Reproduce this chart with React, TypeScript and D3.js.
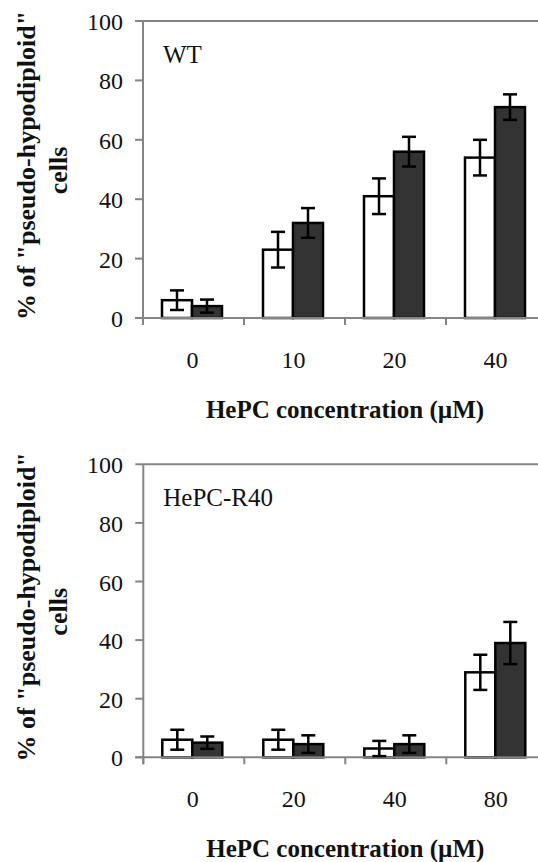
import { useEffect, useRef } from 'react';
import * as d3 from 'd3';

// Panel A: wild type
const WT_CONC = ["0", "10", "20", "40"];
const WT_OPEN = [6, 23, 41, 54];
const WT_OPEN_ERR = [3.3, 6, 6, 6];
const WT_FILLED = [4, 32, 56, 71];
const WT_FILLED_ERR = [2.2, 5, 5, 4.3];

// Panel B: HePC-R40 resistant line
const R40_CONC = ["0", "20", "40", "80"];
const R40_OPEN = [6, 6, 3, 29];
const R40_OPEN_ERR = [3.4, 3.4, 2.6, 6];
const R40_FILLED = [5, 4.5, 4.5, 39];
const R40_FILLED_ERR = [2.1, 3, 3, 7.2];

const Y_TICKS = [0, 20, 40, 60, 80, 100];

const AXIS_GRAY = "#858585";
const BAR_DARK = "#333333";
const FONT = "'Liberation Serif', 'Times New Roman', serif";

const W = 538;
const H = 862;

function drawPanel(svg: any, opts: any) {
  const { top, bottom, left, label, conc, open, openErr, filled, filledErr } = opts;
  const bandW = 101;

  const x = d3.scaleBand()
    .domain(conc)
    .range([left, left + bandW * conc.length])
    .paddingInner(0)
    .paddingOuter(0);

  const y = d3.scaleLinear().domain([0, 100]).range([bottom, top]);

  const g = svg.append("g");

  // frame: top border + left axis + baseline
  g.append("line")
    .attr("x1", left).attr("x2", W)
    .attr("y1", y(100)).attr("y2", y(100))
    .attr("stroke", AXIS_GRAY).attr("stroke-width", 2);
  g.append("line")
    .attr("x1", left).attr("x2", left)
    .attr("y1", y(100)).attr("y2", y(0) + 7)
    .attr("stroke", AXIS_GRAY).attr("stroke-width", 2);

  // y ticks + labels
  Y_TICKS.forEach((t) => {
    g.append("line")
      .attr("x1", left - 8).attr("x2", left)
      .attr("y1", y(t)).attr("y2", y(t))
      .attr("stroke", AXIS_GRAY).attr("stroke-width", 2);
    g.append("text")
      .attr("x", 123)
      .attr("y", y(t) + 9)
      .attr("text-anchor", "end")
      .attr("font-family", FONT)
      .attr("font-size", 24)
      .attr("fill", "#111")
      .text(t);
  });

  // x ticks at band edges
  conc.forEach((c: string) => {
    g.append("line")
      .attr("x1", x(c)).attr("x2", x(c))
      .attr("y1", y(0)).attr("y2", y(0) + 7)
      .attr("stroke", AXIS_GRAY).attr("stroke-width", 2);
    g.append("text")
      .attr("x", (x(c) as number) + x.bandwidth() / 2 - 1)
      .attr("y", y(0) + 50)
      .attr("text-anchor", "middle")
      .attr("font-family", FONT)
      .attr("font-size", 24)
      .attr("fill", "#111")
      .text(c);
  });

  // bars
  const barW = 30;
  const series = [
    { vals: open, errs: openErr, fill: "#ffffff", off: -barW },
    { vals: filled, errs: filledErr, fill: BAR_DARK, off: 0 },
  ];

  series.forEach((s) => {
    conc.forEach((c: string, i: number) => {
      const cx = (x(c) as number) + x.bandwidth() / 2 - 1.5;
      g.append("rect")
        .attr("x", cx + s.off)
        .attr("y", y(s.vals[i]))
        .attr("width", barW)
        .attr("height", y(0) - y(s.vals[i]))
        .attr("fill", s.fill)
        .attr("stroke", "#000")
        .attr("stroke-width", 2.5);
    });
  });

  // baseline over bar bottoms
  g.append("line")
    .attr("x1", left - 8).attr("x2", W)
    .attr("y1", y(0)).attr("y2", y(0))
    .attr("stroke", AXIS_GRAY).attr("stroke-width", 2);

  // error bars
  series.forEach((s) => {
    conc.forEach((c: string, i: number) => {
      const ex = (x(c) as number) + x.bandwidth() / 2 - 1.5 + s.off + barW / 2;
      const hi = y(s.vals[i] + s.errs[i]);
      const lo = y(Math.max(0, s.vals[i] - s.errs[i]));
      const cap = 7;
      const eg = g.append("g").attr("stroke", "#000").attr("stroke-width", 2.5);
      eg.append("line").attr("x1", ex).attr("x2", ex).attr("y1", hi).attr("y2", lo);
      eg.append("line").attr("x1", ex - cap).attr("x2", ex + cap).attr("y1", hi).attr("y2", hi);
      eg.append("line").attr("x1", ex - cap).attr("x2", ex + cap).attr("y1", lo).attr("y2", lo);
    });
  });

  // inset label
  g.append("text")
    .attr("x", left + 20)
    .attr("y", y(100) + 42)
    .attr("font-family", FONT)
    .attr("font-size", 25)
    .attr("fill", "#111")
    .text(label);

  // x title
  g.append("text")
    .attr("x", left + bandW * 2)
    .attr("y", y(0) + 100)
    .attr("text-anchor", "middle")
    .attr("font-family", FONT)
    .attr("font-weight", "bold")
    .attr("font-size", 25)
    .attr("fill", "#111")
    .text("HePC concentration (\u00b5M)");

  // y title, two lines
  const mid = (y(0) + y(100)) / 2;
  g.append("text")
    .attr("transform", `translate(35, ${mid - 4}) rotate(-90)`)
    .attr("text-anchor", "middle")
    .attr("font-family", FONT)
    .attr("font-weight", "bold")
    .attr("font-size", 26)
    .attr("fill", "#111")
    .text('% of "pseudo-hypodiploid"');
  g.append("text")
    .attr("transform", `translate(67, ${mid + 1}) rotate(-90)`)
    .attr("text-anchor", "middle")
    .attr("font-family", FONT)
    .attr("font-weight", "bold")
    .attr("font-size", 26)
    .attr("fill", "#111")
    .text("cells");
}

export default function App() {
  const ref = useRef<SVGSVGElement>(null);

  useEffect(() => {
    if (!ref.current) return;
    const svg = d3.select(ref.current);
    svg.selectAll("*").remove();

    drawPanel(svg, {
      top: 21, bottom: 318, left: 143, label: "WT",
      conc: WT_CONC, open: WT_OPEN, openErr: WT_OPEN_ERR,
      filled: WT_FILLED, filledErr: WT_FILLED_ERR,
    });
    drawPanel(svg, {
      top: 464.3, bottom: 757.3, left: 143.3, label: "HePC-R40",
      conc: R40_CONC, open: R40_OPEN, openErr: R40_OPEN_ERR,
      filled: R40_FILLED, filledErr: R40_FILLED_ERR,
    });
  }, []);

  return (
    <svg
      ref={ref}
      width={W}
      height={H}
      style={{ position: 'absolute', left: 0, top: 0, background: '#fff' }}
    />
  );
}
